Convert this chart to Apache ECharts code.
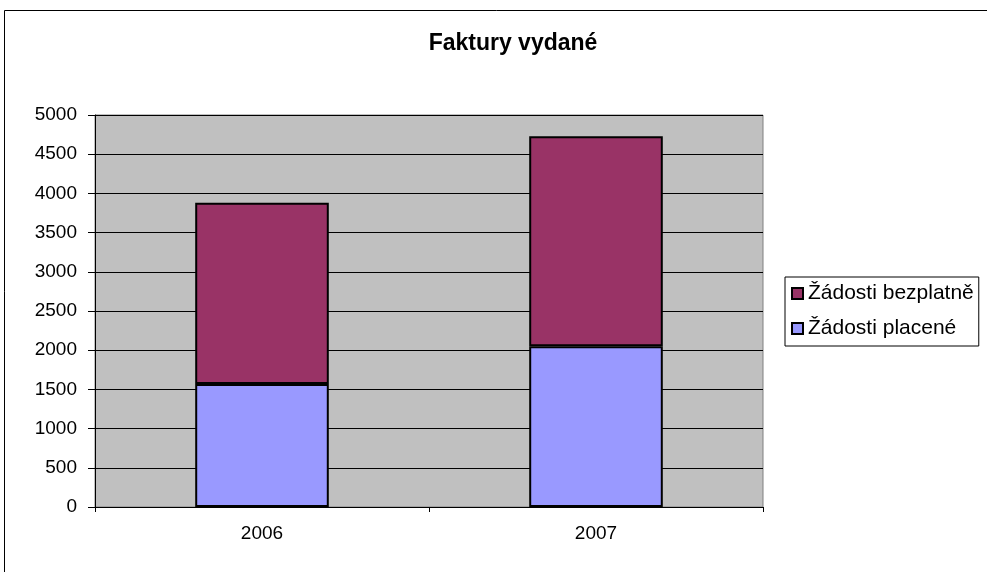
<!DOCTYPE html>
<html>
<head>
<meta charset="utf-8">
<script src="https://cdn.jsdelivr.net/npm/echarts@6/dist/echarts.min.js"></script>
<style>
html,body{margin:0;padding:0;background:#fff;}
#c{width:987px;height:572px;}
</style>
</head>
<body>
<div id="c"></div>
<script>
const categories = ['2006', '2007'];
const placene = [1570, 2050];
const bezplatne = [2310, 2680];
const yTicks = [0, 500, 1000, 1500, 2000, 2500, 3000, 3500, 4000, 4500, 5000];
const seriesNames = ['Žádosti placené', 'Žádosti bezplatně'];

const chart = echarts.init(document.getElementById('c'));
const font = 'Arial, "Liberation Sans", sans-serif';
chart.setOption({
  animation: false,
  backgroundColor: '#fff',
  graphic: [{
    type: 'rect', shape: {x: 4.5, y: 10.5, width: 1000, height: 600},
    style: {fill: 'none', stroke: '#000', lineWidth: 1}, silent: true
  }],
  title: {
    text: 'Faktury vydané', left: 508, top: 27, textAlign: 'center',
    textStyle: {fontFamily: font, fontSize: 23, fontWeight: 'bold', color: '#000'}
  },
  legend: {
    orient: 'vertical', left: 785, top: 277,
    data: [seriesNames[1], seriesNames[0]],
    backgroundColor: '#fff', borderColor: '#000', borderWidth: 1,
    padding: [6, 5, 7, 6], itemGap: 14, itemWidth: 11, itemHeight: 11,
    icon: 'rect',
    textStyle: {fontFamily: font, fontSize: 21, lineHeight: 20, color: '#000'}
  },
  grid: {
    left: 95, right: 224, top: 115, bottom: 65, show: true,
    backgroundColor: '#C0C0C0', borderColor: '#808080', borderWidth: 1
  },
  xAxis: {
    type: 'category', data: categories,
    axisLine: {lineStyle: {color: '#000'}},
    axisTick: {show: true, alignWithLabel: false, length: 5, lineStyle: {color: '#000'}},
    axisLabel: {fontFamily: font, fontSize: 19, color: '#000', margin: 17}
  },
  yAxis: {
    type: 'value', min: yTicks[0], max: yTicks[yTicks.length - 1], interval: 500,
    axisLine: {show: true, lineStyle: {color: '#000'}},
    axisTick: {show: true, length: 7, lineStyle: {color: '#000'}},
    axisLabel: {fontFamily: font, fontSize: 19, color: '#000', margin: 18,
                formatter: v => String(v)},
    splitLine: {lineStyle: {color: '#000', width: 1}}
  },
  series: [
    {name: seriesNames[0], type: 'bar', stack: 's', data: placene, barWidth: '40%',
     itemStyle: {color: '#9999FF', borderColor: '#000', borderWidth: 2}},
    {name: seriesNames[1], type: 'bar', stack: 's', data: bezplatne, barWidth: '40%',
     itemStyle: {color: '#993366', borderColor: '#000', borderWidth: 2}}
  ]
});
</script>
</body>
</html>
